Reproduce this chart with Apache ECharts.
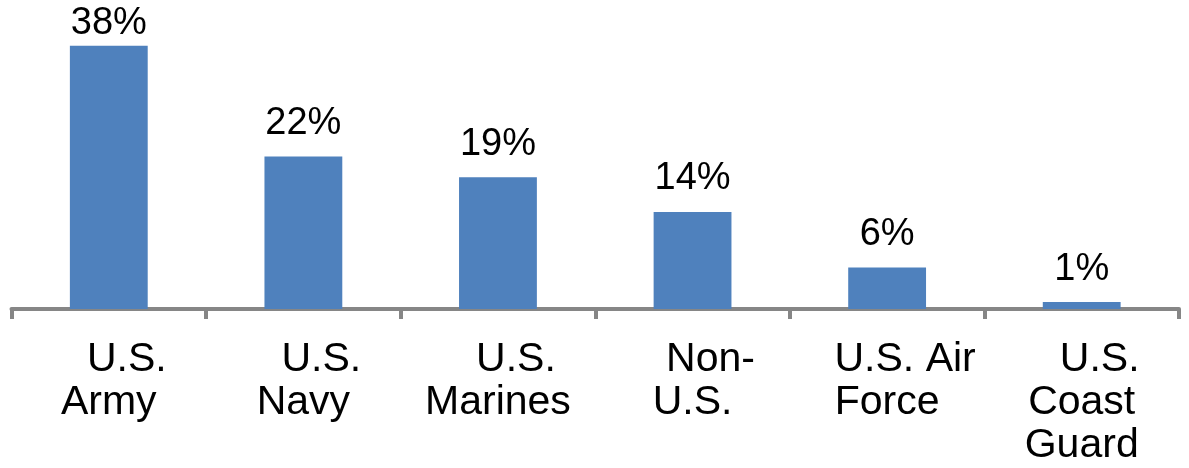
<!DOCTYPE html>
<html>
<head>
<meta charset="utf-8">
<script src="https://cdn.jsdelivr.net/npm/echarts@6/dist/echarts.min.js"></script>
<style>
html,body{margin:0;padding:0;background:#fff;}
#chart{width:1189px;height:468px;}
</style>
</head>
<body>
<div id="chart"></div>
<script>
const categories = ['U.S.\nArmy', 'U.S.\nNavy', 'U.S.\nMarines', 'Non-\nU.S.', 'U.S. Air\nForce', 'U.S.\nCoast\nGuard'];
const values = [38, 22, 19, 14, 6, 1];

const chart = echarts.init(document.getElementById('chart'));
const seriesData = values.map(function (v, i) {
  return i === 0 ? { value: v, label: { distance: 3 } } : v;
});
chart.setOption({
  animation: false,
  grid: { left: 11.5, right: 10, top: 45.7, bottom: 159, containLabel: false },
  xAxis: {
    type: 'category',
    data: categories,
    axisLine: { lineStyle: { color: '#868686', width: 4 } },
    axisTick: { show: true, length: 10, alignWithLabel: false, lineStyle: { color: '#868686', width: 4 } },
    axisLabel: {
      interval: 0,
      margin: 29,
      color: '#000',
      formatter: function (val) {
        const lines = val.split('\n');
        return lines.map(function (l, i) { return (i === 0 ? '{a|' : '{b|') + l + '}'; }).join('\n');
      },
      rich: {
        a: { fontFamily: 'Liberation Sans', fontSize: 41, lineHeight: 43, color: '#000', align: 'center', padding: [0, 0, 0, 36] },
        b: { fontFamily: 'Liberation Sans', fontSize: 41, lineHeight: 43, color: '#000', align: 'center' }
      }
    }
  },
  yAxis: {
    type: 'value', min: 0, max: 38, show: false,
    splitLine: { show: false }
  },
  series: [{
    type: 'bar',
    data: seriesData,
    barWidth: '40%',
    itemStyle: { color: '#4F81BD' },
    label: {
      show: true,
      position: 'top',
      distance: 14,
      formatter: '{c}%',
      fontFamily: 'Liberation Sans',
      fontSize: 38,
      lineHeight: 38,
      color: '#000'
    }
  }]
});
</script>
</body>
</html>
